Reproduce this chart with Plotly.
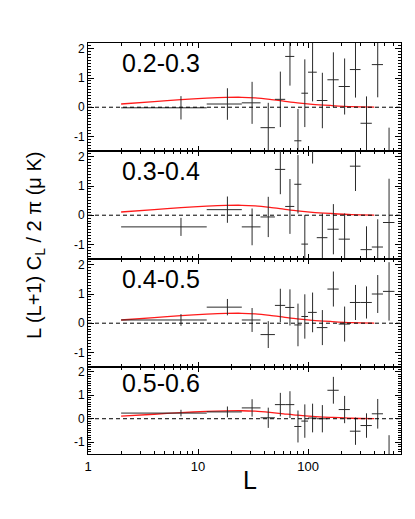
import math
import plotly.graph_objects as go

# ---- data ----
bin_lo = [2, 12, 25, 37, 50, 62, 75, 87, 100, 120, 150, 190, 240, 300, 380, 480]
bin_hi = [12, 25, 37, 50, 62, 75, 87, 100, 120, 150, 190, 240, 300, 380, 480, 610]
L_center = [7, 18.5, 31, 43.5, 56, 68.5, 81, 93.5, 110, 135, 170, 215, 270, 340, 430, 545]

panel_labels = ["0.2-0.3", "0.3-0.4", "0.4-0.5", "0.5-0.6"]

vals_1 = [-0.02, 0.11, 0.15, -0.70, 0.27, 1.74, -1.15, 0.48, 1.20, 0.23, 0.94, 0.71, 1.29, -0.55, 1.46, -1.90]
errs_1 = [0.40, 0.54, 0.72, 0.85, 0.95, 1.00, 1.09, 1.16, 1.00, 0.95, 0.94, 0.96, 0.96, 0.92, 1.12, 1.20]

vals_2 = [-0.40, 0.19, -0.40, -0.06, 1.57, 0.30, 1.06, -0.99, 2.80, -0.77, -0.48, -0.82, 1.68, -1.18, -1.09, -0.25]
errs_2 = [0.31, 0.45, 0.63, 0.69, 0.85, 0.94, 1.00, 1.00, 1.03, 0.83, 0.86, 0.88, 0.85, 0.80, 0.95, 1.50]

vals_3 = [0.11, 0.55, 0.11, -0.39, 0.61, 0.54, -0.06, 0.23, 0.37, -0.15, 1.17, -0.03, 0.71, 0.71, 1.00, 1.09]
errs_3 = [0.20, 0.28, 0.41, 0.46, 0.57, 0.62, 0.73, 0.76, 0.68, 0.60, 0.60, 0.60, 0.60, 0.55, 0.65, 1.00]

vals_4 = [0.24, 0.29, 0.46, 0.04, 0.60, 0.60, -0.33, -0.10, 0.03, 0.00, 1.21, 0.39, -0.53, -0.29, 0.21, -1.90]
errs_4 = [0.14, 0.23, 0.37, 0.43, 0.50, 0.57, 0.68, 0.71, 0.61, 0.58, 0.57, 0.58, 0.58, 0.52, 0.63, 1.20]

theory_L = [2, 4, 7, 12, 18, 25, 33, 45, 60, 80, 110, 160, 250, 400]
theory_v = [0.11, 0.19, 0.26, 0.31, 0.335, 0.34, 0.32, 0.27, 0.21, 0.15, 0.10, 0.06, 0.02, 0.005]

x_major = [1, 10, 100]
x_major_text = ["1", "10", "100"]
x_minor = [2, 3, 4, 5, 6, 7, 8, 9, 20, 30, 40, 50, 60, 70, 80, 90, 200, 300, 400, 500, 600]
y_major = [-1, 0, 1, 2]
y_major_text = ["-1", "0", "1", "2"]

all_vals = [vals_1, vals_2, vals_3, vals_4]
all_errs = [errs_1, errs_2, errs_3, errs_4]

# ---- layout geometry ----
W, H = 415, 519
ML, MR, MT, MB = 88, 14, 43, 65
domains = [[0.7372, 1.0], [0.4745, 0.7372], [0.2117, 0.4745], [0.0, 0.2117]]
XRANGE = [0, 2.845]
YRANGE = [-1.5, 2.2]
FONT = "Liberation Sans, Arial, Helvetica, sans-serif"

fig = go.Figure()
err_plus = [hi - c for hi, c in zip(bin_hi, L_center)]
err_minus = [c - lo for lo, c in zip(bin_lo, L_center)]

for i in range(4):
    n = i + 1
    xa = "x" if n == 1 else f"x{n}"
    ya = "y" if n == 1 else f"y{n}"
    # theory curve
    fig.add_trace(go.Scatter(
        x=theory_L, y=theory_v, mode="lines", xaxis=xa, yaxis=ya,
        line=dict(color="#ff1a1a", width=1.3, shape="spline", smoothing=0.8),
        showlegend=False, hoverinfo="skip"))
    # data points with error bars
    fig.add_trace(go.Scatter(
        x=L_center, y=all_vals[i], mode="markers", xaxis=xa, yaxis=ya,
        marker=dict(size=1, color="rgba(0,0,0,0)"),
        error_x=dict(type="data", symmetric=False, array=err_plus, arrayminus=err_minus,
                     color="#2a2a2a", thickness=1, width=0),
        error_y=dict(type="data", array=all_errs[i], color="#2a2a2a", thickness=1, width=0),
        showlegend=False))

    fig.add_shape(type="line", xref=f"{xa} domain", yref=ya, x0=0, x1=1, y0=0, y1=0,
                  line=dict(color="black", width=1, dash="4px,3px"), layer="above")

    axkey = "xaxis" if n == 1 else f"xaxis{n}"
    aykey = "yaxis" if n == 1 else f"yaxis{n}"
    fig.update_layout({
        axkey: dict(
            type="log", range=XRANGE, domain=[0, 1], anchor=ya,
            showline=True, linecolor="black", linewidth=1, mirror="allticks",
            ticks="inside", ticklen=5, tickcolor="black", tickwidth=1,
            tickmode="array", tickvals=x_major, ticktext=x_major_text,
            showticklabels=(n == 4), showgrid=False, zeroline=False,
            tickfont=dict(family=FONT, size=13, color="black"),
            minor=dict(tickmode="array", tickvals=x_minor, ticks="inside", ticklen=3,
                       tickcolor="black", tickwidth=1, showgrid=False),
        ),
        aykey: dict(
            range=YRANGE, domain=domains[i], anchor=xa,
            showline=True, linecolor="black", linewidth=1, mirror="allticks",
            ticks="inside", ticklen=6, tickcolor="black", tickwidth=1,
            tickmode="array", tickvals=y_major, ticktext=y_major_text,
            showgrid=False, zeroline=False,
            tickfont=dict(family=FONT, size=12, color="black"),
            minor=dict(dtick=0.1, ticks="inside", ticklen=3, tickcolor="black",
                       tickwidth=1, showgrid=False),
        ),
    })
    fig.add_annotation(text=panel_labels[i], xref=xa, yref=ya,
                       x=math.log10(2), y=1.5, xanchor="left", yanchor="middle",
                       showarrow=False, borderpad=0,
                       font=dict(family=FONT, size=25, color="black"))

fig.add_annotation(text="L (L+1) C<sub>L</sub> / 2 \u03c0 (\u03bc K)", xref="paper", yref="paper",
                   x=(35 - ML) / (W - ML - MR), y=0.506, textangle=-90,
                   xanchor="center", yanchor="middle", showarrow=False,
                   font=dict(family=FONT, size=20, color="black"))
fig.add_annotation(text="L", xref="paper", yref="paper",
                   x=(250 - ML) / (W - ML - MR), y=(454 - 480) / (519 - MT - MB),
                   xanchor="center", yanchor="middle", showarrow=False,
                   font=dict(family=FONT, size=25, color="black"))

fig.update_layout(
    width=W, height=H, margin=dict(l=ML, r=MR, t=MT, b=MB),
    paper_bgcolor="white", plot_bgcolor="white", showlegend=False,
)

fig.write_html("out.html", config={"displayModeBar": False},
               post_script="document.body.style.margin='0';")
